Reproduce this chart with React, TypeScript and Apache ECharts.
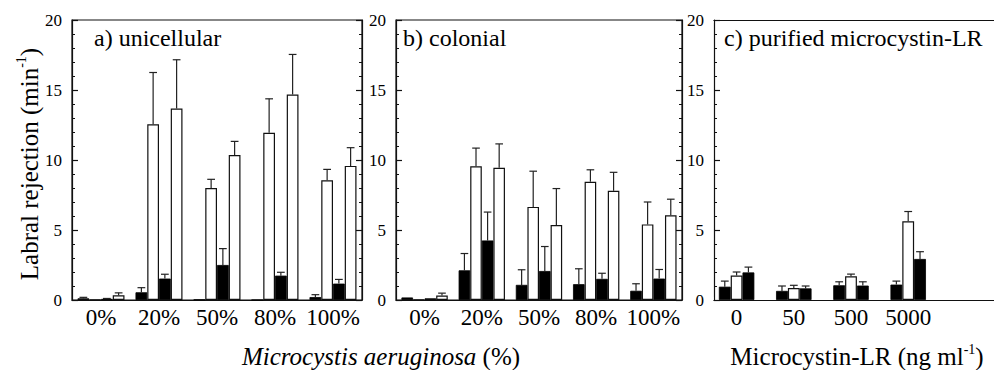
import React, { useEffect, useRef } from 'react';
import * as echarts from 'echarts';

// ---------- data ----------
const pctCategories = ['0%', '20%', '50%', '80%', '100%'];
const mcCategories = ['0', '50', '500', '5000', ''];

// panel a) unicellular (mean, SD)
const aBlack1 = [0.12, 0.55, 0.03, 0, 0.21];
const aBlack1Sd = [0.07, 0.33, 0, 0, 0.17];
const aWhite1 = [0.03, 12.55, 8.0, 11.95, 8.55];
const aWhite1Sd = [0, 3.7, 0.62, 2.42, 0.78];
const aBlack2 = [0.08, 1.53, 2.5, 1.74, 1.17];
const aBlack2Sd = [0.03, 0.31, 1.17, 0.24, 0.3];
const aWhite2 = [0.34, 13.68, 10.35, 14.68, 9.58];
const aWhite2Sd = [0.17, 3.48, 0.98, 2.86, 1.3];

// panel b) colonial
const bBlack1 = [0.18, 2.12, 1.08, 1.13, 0.66];
const bBlack1Sd = [0, 1.2, 1.08, 1.1, 0.5];
const bWhite1 = [0.03, 9.55, 6.65, 8.45, 5.4];
const bWhite1Sd = [0, 1.3, 2.55, 0.85, 1.6];
const bBlack2 = [0.12, 4.25, 2.07, 1.51, 1.53];
const bBlack2Sd = [0, 2.03, 1.75, 0.4, 0.65];
const bWhite2 = [0.32, 9.45, 5.36, 7.8, 6.05];
const bWhite2Sd = [0.17, 1.7, 2.6, 1.32, 1.15];

// panel c) purified microcystin-LR
const cBlack1 = [0.95, 0.65, 1.05, 1.1];
const cBlack1Sd = [0.4, 0.35, 0.25, 0.25];
const cWhite = [1.75, 0.86, 1.69, 5.62];
const cWhiteSd = [0.25, 0.19, 0.16, 0.7];
const cBlack2 = [1.97, 0.83, 1.03, 2.93];
const cBlack2Sd = [0.38, 0.17, 0.27, 0.52];

const yMin = 0;
const yMax = 20;
const yStep = 5;

// ---------- styling ----------
const FONT = 'Liberation Serif';
const INK = '#111';
const LW = 1.2;

const GAP_AB = 0.19; // barCategoryGap fraction (4 bars)
const GAP_C = 0.38; // barCategoryGap fraction (3 bars)

function barSeries(name: string, data: number[], gi: number, filled: boolean, gap: number) {
  return {
    type: 'bar',
    name,
    data,
    xAxisIndex: gi,
    yAxisIndex: gi,
    barGap: '0%',
    barCategoryGap: Math.round(gap * 100) + '%',
    itemStyle: filled
      ? { color: '#000', borderColor: '#000', borderWidth: 0.8 }
      : { color: '#fff', borderColor: INK, borderWidth: LW },
    z: 2,
  };
}

function errSeries(name: string, means: number[], sds: number[], gi: number, j: number, n: number, gap: number) {
  const w = (1 - gap) / n;
  const off = -(1 - gap) / 2 + w * (j + 0.5);
  return {
    type: 'custom',
    name: name + ' SD',
    xAxisIndex: gi,
    yAxisIndex: gi,
    z: 3,
    clip: false,
    encode: { x: 0, y: 1 },
    data: means.map((m, i) => [i, m, sds[i]]),
    renderItem: (params: any, api: any) => {
      const i = api.value(0);
      const m = api.value(1);
      const sd = api.value(2);
      if (!sd || sd <= 0) return { type: 'group', children: [] };
      const band = api.size([1, 0])[0];
      const base = api.coord([i, m]);
      const top = api.coord([i, m + sd]);
      const x = base[0] + off * band;
      const half = w * band * 0.33;
      const style = { stroke: '#222', lineWidth: LW, fill: 'none' };
      return {
        type: 'group',
        children: [
          { type: 'line', shape: { x1: x, y1: base[1], x2: x, y2: top[1] }, style },
          { type: 'line', shape: { x1: x - half, y1: top[1], x2: x + half, y2: top[1] }, style },
        ],
      };
    },
  };
}

function yAxis(gi: number, position: string, showLabel: boolean, offset = 0) {
  return {
    type: 'value',
    gridIndex: gi,
    position,
    offset,
    min: yMin,
    max: yMax,
    interval: yStep,
    axisLine: { show: true, lineStyle: { color: INK, width: LW } },
    axisTick: { show: true, inside: true, length: 6, lineStyle: { color: INK, width: LW } },
    minorTick: { show: true, splitNumber: 5, length: 3, lineStyle: { color: INK, width: 1 } },
    splitLine: { show: false },
    minorSplitLine: { show: false },
    axisLabel: { show: showLabel, fontSize: 17, color: '#000', fontFamily: FONT, margin: 10 },
  };
}

function xAxis(gi: number, data: string[], position = 'bottom', showLabel = true) {
  return {
    type: 'category',
    gridIndex: gi,
    data,
    position,
    axisLine: { show: true, lineStyle: { color: INK, width: LW } },
    axisTick: { show: false },
    splitLine: { show: false },
    axisLabel: { show: showLabel, fontSize: 23, color: '#000', fontFamily: FONT, margin: 6, interval: 0 },
  };
}

const frameGrid = { show: true, borderColor: INK, borderWidth: LW, backgroundColor: 'transparent' };

const option: any = {
  animation: false,
  backgroundColor: '#fff',
  textStyle: { fontFamily: FONT, color: '#000' },
  grid: [
    { left: 72, top: 20, width: 290, height: 280, ...frameGrid },
    { left: 396, top: 20, width: 286, height: 280, ...frameGrid },
    { left: 708, top: 20, width: 287, height: 280, show: false },
  ],
  xAxis: [
    xAxis(0, pctCategories),
    xAxis(1, pctCategories),
    xAxis(2, mcCategories),
    xAxis(2, mcCategories, 'top', false),
  ],
  yAxis: [
    yAxis(0, 'left', true),
    yAxis(1, 'left', true),
    yAxis(2, 'left', true, -6),
    yAxis(0, 'right', false),
    yAxis(1, 'right', false),
  ],
  series: [
    barSeries('a black 1', aBlack1, 0, true, GAP_AB),
    barSeries('a white 1', aWhite1, 0, false, GAP_AB),
    barSeries('a black 2', aBlack2, 0, true, GAP_AB),
    barSeries('a white 2', aWhite2, 0, false, GAP_AB),
    errSeries('a black 1', aBlack1, aBlack1Sd, 0, 0, 4, GAP_AB),
    errSeries('a white 1', aWhite1, aWhite1Sd, 0, 1, 4, GAP_AB),
    errSeries('a black 2', aBlack2, aBlack2Sd, 0, 2, 4, GAP_AB),
    errSeries('a white 2', aWhite2, aWhite2Sd, 0, 3, 4, GAP_AB),

    barSeries('b black 1', bBlack1, 1, true, GAP_AB),
    barSeries('b white 1', bWhite1, 1, false, GAP_AB),
    barSeries('b black 2', bBlack2, 1, true, GAP_AB),
    barSeries('b white 2', bWhite2, 1, false, GAP_AB),
    errSeries('b black 1', bBlack1, bBlack1Sd, 1, 0, 4, GAP_AB),
    errSeries('b white 1', bWhite1, bWhite1Sd, 1, 1, 4, GAP_AB),
    errSeries('b black 2', bBlack2, bBlack2Sd, 1, 2, 4, GAP_AB),
    errSeries('b white 2', bWhite2, bWhite2Sd, 1, 3, 4, GAP_AB),

    barSeries('c black 1', cBlack1, 2, true, GAP_C),
    barSeries('c white', cWhite, 2, false, GAP_C),
    barSeries('c black 2', cBlack2, 2, true, GAP_C),
    errSeries('c black 1', cBlack1, cBlack1Sd, 2, 0, 3, GAP_C),
    errSeries('c white', cWhite, cWhiteSd, 2, 1, 3, GAP_C),
    errSeries('c black 2', cBlack2, cBlack2Sd, 2, 2, 3, GAP_C),
  ],
  graphic: [
    // hide the stubs of panel c's horizontal lines left of its y axis
    { type: 'rect', z: 100, shape: { x: 705, y: 17, width: 8.4, height: 6 }, style: { fill: '#fff' } },
    { type: 'rect', z: 100, shape: { x: 705, y: 297, width: 8.4, height: 6 }, style: { fill: '#fff' } },
    {
      type: 'text', x: 94, y: 38, z: 50,
      style: { text: 'a) unicellular', fontSize: 24, fontFamily: FONT, fill: '#000', align: 'left', verticalAlign: 'middle' },
    },
    {
      type: 'text', x: 403, y: 38, z: 50,
      style: { text: 'b) colonial', fontSize: 24, fontFamily: FONT, fill: '#000', align: 'left', verticalAlign: 'middle' },
    },
    {
      type: 'text', x: 724, y: 38, z: 50,
      style: { text: 'c) purified microcystin-LR', fontSize: 24, fontFamily: FONT, fill: '#000', align: 'left', verticalAlign: 'middle' },
    },
    {
      type: 'text', x: 29, y: 164, rotation: Math.PI / 2, z: 50,
      style: {
        text: '{t|Labral rejection (min}{s|-1}{t|)}',
        fill: '#000', fontFamily: FONT, align: 'center', verticalAlign: 'middle',
        rich: {
          t: { fontSize: 25, fontFamily: FONT, lineHeight: 29, fill: '#000' },
          s: { fontSize: 14, fontFamily: FONT, lineHeight: 14, verticalAlign: 'top', fill: '#000' },
        },
      },
    },
    {
      type: 'text', x: 381, y: 356, z: 50,
      style: {
        text: '{i|Microcystis aeruginosa}{t| (%)}',
        fill: '#000', fontFamily: FONT, align: 'center', verticalAlign: 'middle',
        rich: {
          i: { fontSize: 25, fontFamily: FONT, fontStyle: 'italic', lineHeight: 28, fill: '#000' },
          t: { fontSize: 25, fontFamily: FONT, lineHeight: 28, fill: '#000' },
        },
      },
    },
    {
      type: 'text', x: 857, y: 356, z: 50,
      style: {
        text: '{t|Microcystin-LR (ng ml}{s|-1}{t|)}',
        fill: '#000', fontFamily: FONT, align: 'center', verticalAlign: 'middle',
        rich: {
          t: { fontSize: 25, fontFamily: FONT, lineHeight: 28, fill: '#000' },
          s: { fontSize: 14, fontFamily: FONT, lineHeight: 14, verticalAlign: 'top', fill: '#000' },
        },
      },
    },
  ],
};

export default function App() {
  const ref = useRef<HTMLDivElement>(null);
  useEffect(() => {
    if (!ref.current) return;
    const chart = echarts.init(ref.current, null, { renderer: 'svg' });
    chart.setOption(option);
    return () => chart.dispose();
  }, []);
  return (
    <div
      ref={ref}
      style={{ position: 'fixed', left: 0, top: 0, width: 994, height: 370, background: '#fff' }}
    />
  );
}
